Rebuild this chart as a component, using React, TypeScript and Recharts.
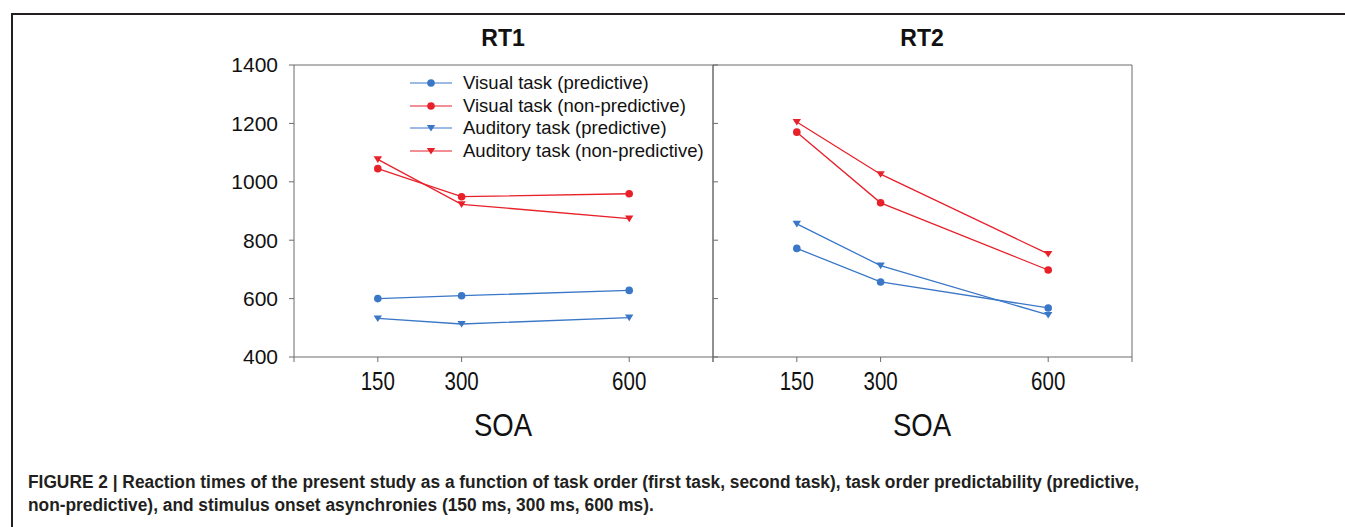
import React from 'react';
import { LineChart, Line, XAxis, YAxis } from 'recharts';

// SOA in ms
const soa = [150, 300, 600];
const xTicks = [0, 150, 300, 600, 750];
const yTicks = [400, 600, 800, 1000, 1200, 1400];

// RT1 (first task)
const rt1VisualPred = [600, 610, 628];
const rt1VisualNonPred = [1045, 949, 959];
const rt1AuditoryPred = [532, 513, 535];
const rt1AuditoryNonPred = [1077, 923, 874];

// RT2 (second task)
const rt2VisualPred = [772, 657, 568];
const rt2VisualNonPred = [1170, 928, 698];
const rt2AuditoryPred = [856, 713, 544];
const rt2AuditoryNonPred = [1205, 1026, 753];

const seriesNames = [
  'Visual task (predictive)',
  'Visual task (non-predictive)',
  'Auditory task (predictive)',
  'Auditory task (non-predictive)',
];

const BLUE = '#3a77c7';
const RED = '#e8202a';
const AXIS = '#6b6b6b';
const FONT = '"Liberation Sans", Arial, Helvetica, sans-serif';

const series = [
  { key: 'visPred', name: seriesNames[0], color: BLUE, shape: 'circle' },
  { key: 'visNon', name: seriesNames[1], color: RED, shape: 'circle' },
  { key: 'audPred', name: seriesNames[2], color: BLUE, shape: 'triangle' },
  { key: 'audNon', name: seriesNames[3], color: RED, shape: 'triangle' },
];

const buildRows = (vp: number[], vn: number[], ap: number[], an: number[]) =>
  soa.map((s, i) => ({ soa: s, visPred: vp[i], visNon: vn[i], audPred: ap[i], audNon: an[i] }));

const rt1Rows = buildRows(rt1VisualPred, rt1VisualNonPred, rt1AuditoryPred, rt1AuditoryNonPred);
const rt2Rows = buildRows(rt2VisualPred, rt2VisualNonPred, rt2AuditoryPred, rt2AuditoryNonPred);

const Marker = ({ cx, cy, color, shape }: any) =>
  shape === 'circle' ? (
    <circle cx={cx} cy={cy} r={3.8} fill={color} />
  ) : (
    <path d={`M${cx - 4.2},${cy - 3} L${cx + 4.2},${cy - 3} L${cx},${cy + 3.6} Z`} fill={color} />
  );

const makeDot = (color: string, shape: string) => (props: any) => {
  const { cx, cy, index } = props;
  if (cx == null || cy == null) return <g key={index} />;
  return (
    <g key={index}>
      <Marker cx={cx} cy={cy} color={color} shape={shape} />
    </g>
  );
};

const NarrowTick = (props: any) => {
  const { x, y, payload } = props;
  const v = payload.value;
  if (v === 0 || v === 750) return <g />;
  return (
    <g transform={`translate(${x},${y})`}>
      <text
        transform="scale(0.82,1)"
        textAnchor="middle"
        dy="0.72em"
        fontSize={25}
        fontFamily={FONT}
        fill="#111"
      >
        {v}
      </text>
    </g>
  );
};

const renderLines = () =>
  series.map((s) => (
    <Line
      key={s.key}
      dataKey={s.key}
      name={s.name}
      type="linear"
      stroke={s.color}
      strokeWidth={1.3}
      dot={makeDot(s.color, s.shape)}
      activeDot={false}
      isAnimationActive={false}
    />
  ));

const bottomAxis = (
  <XAxis
    dataKey="soa"
    type="number"
    domain={[0, 750]}
    ticks={xTicks}
    interval={0}
    tick={<NarrowTick />}
    tickSize={5}
    tickMargin={10}
    height={50}
    stroke={AXIS}
  />
);

const topAxis = (
  <XAxis
    xAxisId="top"
    dataKey="soa"
    orientation="top"
    type="number"
    domain={[0, 750]}
    ticks={xTicks}
    tickLine={false}
    tickFormatter={() => ''}
    height={1}
    stroke={AXIS}
  />
);

const panelTitle = (text: string, cx: number) => (
  <div
    style={{
      position: 'absolute',
      left: cx - 60,
      width: 120,
      top: 25,
      textAlign: 'center',
      fontFamily: FONT,
      fontWeight: 'bold',
      fontSize: 23,
      color: '#111',
    }}
  >
    {text}
  </div>
);

const soaLabel = (cx: number) => (
  <div
    style={{
      position: 'absolute',
      left: cx - 60,
      width: 120,
      top: 407,
      textAlign: 'center',
      fontFamily: FONT,
      fontSize: 32,
      color: '#111',
      transform: 'scaleX(0.86)',
    }}
  >
    SOA
  </div>
);

const captionLine = (text: string, top: number) => (
  <div
    style={{
      position: 'absolute',
      left: 28,
      top,
      whiteSpace: 'nowrap',
      fontFamily: FONT,
      fontWeight: 'bold',
      fontSize: 17.5,
      color: '#231f20',
      transform: 'scaleX(0.99)',
      transformOrigin: 'left top',
    }}
  >
    {text}
  </div>
);

const LegendBox = () => (
  <div style={{ position: 'absolute', left: 410, top: 72, fontFamily: FONT, fontSize: 18.5, color: '#111' }}>
    {series.map((s) => (
      <div key={s.key} style={{ display: 'flex', alignItems: 'center', height: 22.5, whiteSpace: 'nowrap' }}>
        <svg width={53} height={22} style={{ flex: 'none' }}>
          <line x1={0} x2={42} y1={11} y2={11} stroke={s.color} strokeWidth={1.2} />
          <Marker cx={21} cy={11} color={s.color} shape={s.shape} />
        </svg>
        <span>{s.name}</span>
      </div>
    ))}
  </div>
);

export default function App() {
  return (
    <div style={{ position: 'absolute', left: 0, top: 0, width: 1345, height: 527, background: '#fff', overflow: 'hidden' }}>
      {/* figure frame */}
      <div style={{ position: 'absolute', left: 11, top: 13, width: 1345, height: 520, borderLeft: '2px solid #231f20', borderTop: '2px solid #231f20' }} />

      {panelTitle('RT1', 503)}
      {panelTitle('RT2', 922)}

      <div style={{ position: 'absolute', left: 200, top: 40 }}>
        <LineChart width={520} height={370} data={rt1Rows} margin={{ top: 24, right: 7, bottom: 3, left: 34 }}>
          {bottomAxis}
          {topAxis}
          <YAxis
            type="number"
            domain={[400, 1400]}
            ticks={yTicks}
            interval={0}
            tickSize={5}
            tickMargin={11}
            width={60}
            stroke={AXIS}
            tick={{ fontSize: 21, fill: '#111', fontFamily: FONT }}
          />
          <YAxis
            yAxisId="r"
            orientation="right"
            mirror
            type="number"
            domain={[400, 1400]}
            ticks={yTicks}
            interval={0}
            tickSize={5}
            tickFormatter={() => ''}
            width={1}
            stroke={AXIS}
          />
          {renderLines()}
        </LineChart>
      </div>

      <div style={{ position: 'absolute', left: 706, top: 40 }}>
        <LineChart width={520} height={370} data={rt2Rows} margin={{ top: 24, right: 93, bottom: 3, left: 7 }}>
          {bottomAxis}
          {topAxis}
          <YAxis
            mirror
            type="number"
            domain={[400, 1400]}
            ticks={yTicks}
            interval={0}
            tickSize={5}
            tickFormatter={() => ''}
            width={1}
            stroke={AXIS}
          />
          <YAxis
            yAxisId="r"
            orientation="right"
            type="number"
            domain={[400, 1400]}
            ticks={yTicks}
            tickLine={false}
            tickFormatter={() => ''}
            width={1}
            stroke={AXIS}
          />
          {renderLines()}
        </LineChart>
      </div>

      <LegendBox />

      {soaLabel(503)}
      {soaLabel(922)}

      {captionLine(
        'FIGURE 2 | Reaction times of the present study as a function of task order (first task, second task), task order predictability (predictive,',
        472
      )}
      {captionLine('non-predictive), and stimulus onset asynchronies (150 ms, 300 ms, 600 ms).', 495)}
    </div>
  );
}
